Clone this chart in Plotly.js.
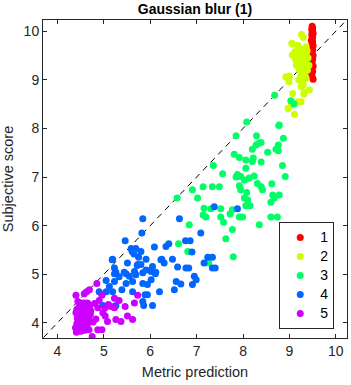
<!DOCTYPE html>
<html><head><meta charset="utf-8">
<script src="https://cdn.plot.ly/plotly-3.0.1.min.js"></script>
<style>html,body{margin:0;padding:0;background:#fff}#chart{width:351px;height:385px}</style>
</head><body><div id="chart"></div>
<script>
const groupNames = ["1","2","3","4","5"];
const groupColors = ["#ff0000","#ccff00","#00ff66","#0066ff","#cc00ff"];
const diagLine = [3.7, 10.25];

const g1x = [9.49,9.50,9.48,9.50,9.49,9.51,9.48,9.50,9.49,9.47,9.50,9.49,9.51,9.48,9.50,9.47,9.49,9.51,9.48,9.50,9.46,9.49,9.51,9.47,9.50,9.48,9.49,9.51,9.45,9.44];
const g1y = [10.10,10.07,10.04,10.01,9.98,9.95,9.92,9.88,9.85,9.81,9.78,9.74,9.70,9.66,9.62,9.58,9.54,9.50,9.46,9.42,9.38,9.33,9.28,9.23,9.17,9.12,9.06,9.01,9.40,9.32];

const g2x = [9.26,9.30,9.07,9.18,9.36,9.05,9.25,9.32,9.12,9.21,9.06,9.28,9.36,9.14,9.25,9.36,9.20,9.40,9.32,9.21,9.39,9.28,9.15,9.42,9.00,8.97,9.25,9.36,9.28,9.33,9.25,9.43,9.07,9.32,9.18,9.25,8.97,9.04,9.11,9.30,9.20,9.38,9.10,9.30,9.22,8.92,8.99,9.31];
const g2y = [9.93,9.87,9.73,9.71,9.68,9.75,9.62,9.58,9.58,9.54,9.51,9.47,9.52,9.40,9.37,9.34,9.44,9.45,9.23,9.20,9.20,9.28,9.30,9.30,9.08,9.05,9.10,9.03,8.96,9.14,8.86,8.79,8.72,8.75,8.55,8.55,8.41,8.48,8.29,8.90,9.00,9.60,9.48,9.40,9.65,9.06,8.96,8.71];

const g3x = [8.08,8.68,9.03,9.10,8.77,7.85,8.29,8.87,8.39,8.28,8.76,8.71,8.76,8.20,8.53,7.81,7.92,8.06,8.22,8.39,8.20,7.36,8.85,8.06,7.56,7.88,7.95,8.91,7.85,8.24,8.03,8.13,8.31,8.39,7.92,7.95,8.42,8.62,6.91,7.14,7.34,7.49,8.08,8.64,8.78,8.03,8.10,6.58,7.02,8.67,8.60,8.06,8.15,7.16,7.31,7.52,7.77,7.52,7.72,7.14,7.20,7.92,7.99,8.60,8.74,7.58,6.84,8.35,7.77,7.63,6.61,6.81,7.79,7.26,8.35,8.78];
const g3y = [8.13,8.68,8.57,8.50,8.06,7.85,7.85,7.80,7.71,7.66,7.66,7.57,7.54,7.57,7.51,7.47,7.40,7.35,7.39,7.31,7.32,7.24,7.24,7.18,7.07,7.05,7.01,7.01,7.00,7.02,6.94,6.98,6.87,6.80,6.82,6.74,6.74,6.86,6.74,6.80,6.80,6.80,6.68,6.63,6.63,6.57,6.53,6.57,6.57,6.57,6.48,6.41,6.41,6.36,6.35,6.35,6.33,6.18,6.24,6.22,6.18,6.18,6.18,6.18,6.18,6.07,6.02,6.02,5.92,5.73,5.63,5.47,5.36,5.23,7.70,8.07];

const g4x = [7.38,7.88,5.84,6.63,5.46,5.82,7.09,6.76,6.86,6.09,6.34,6.40,5.59,5.69,5.80,5.61,6.90,5.19,5.75,5.91,6.25,6.48,7.24,7.34,5.51,5.72,6.05,6.30,6.59,6.77,6.83,7.16,7.34,7.40,5.23,5.23,5.48,5.66,5.84,6.02,6.11,5.55,5.69,5.05,5.23,5.48,5.84,5.94,5.62,6.02,6.56,6.66,6.91,6.95,6.99,4.90,5.05,5.19,5.39,5.62,5.89,5.94,6.20,6.52,5.84,5.86,6.05,5.26,4.98,5.73,5.80,5.91,6.02,5.26,5.44,5.18,6.23,5.65,6.12,5.12,5.33];
const g4y = [6.39,6.35,6.14,6.14,5.69,5.85,5.85,5.69,5.69,5.56,5.57,5.63,5.53,5.53,5.47,5.47,5.46,5.31,5.35,5.31,5.31,5.31,5.35,5.35,5.23,5.18,5.16,5.23,5.15,5.13,5.13,5.23,5.13,5.13,5.13,5.01,5.01,5.06,5.03,5.06,5.01,4.96,4.99,4.87,4.85,4.81,4.81,4.79,4.85,4.89,4.85,4.80,4.79,4.96,4.89,4.64,4.64,4.64,4.68,4.64,4.58,4.58,4.64,4.68,4.44,4.36,4.36,4.36,4.36,5.20,5.20,5.09,5.09,5.04,5.04,5.30,5.30,5.42,5.04,4.75,4.95];

const g5x = [4.85,4.69,4.63,4.58,4.40,4.96,5.23,5.33,5.73,5.66,5.46,4.90,4.87,5.03,5.16,5.23,4.98,5.03,4.83,5.08,5.26,5.37,5.51,5.62,4.87,4.96,4.75,4.44,4.51,4.58,4.65,4.47,4.54,4.62,4.69,4.40,4.49,4.58,4.66,4.71,4.43,4.51,4.60,4.68,4.42,4.51,4.59,4.66,4.77,4.39,4.47,4.55,4.64,4.41,4.51,4.59,4.68,4.42,4.50,4.56,4.62,4.45,4.72,4.80,5.10];
const g5y = [4.81,4.68,4.64,4.60,4.57,4.57,4.51,4.46,4.57,4.41,4.34,4.46,4.31,4.31,4.34,4.31,4.21,4.14,4.08,4.03,4.07,4.03,4.14,4.07,3.86,3.86,3.72,4.44,4.41,4.41,4.41,4.33,4.32,4.34,4.33,4.21,4.19,4.21,4.20,4.18,4.10,4.08,4.10,4.08,3.99,3.99,3.98,4.00,4.02,3.90,3.90,3.91,3.90,3.81,3.83,3.85,3.86,4.28,4.25,4.12,4.02,4.05,4.25,4.40,4.38];

const xTicks = [4,5,6,7,8,9,10];
const yTicks = [4,5,6,7,8,9,10];

const xs = [g1x,g2x,g3x,g4x,g5x];
const ys = [g1y,g2y,g3y,g4y,g5y];

const traces = [{
  x: diagLine, y: diagLine, mode: 'lines', showlegend: false, hoverinfo: 'skip',
  line: {color: '#000', width: 1, dash: '6px,5px'}
}];
for (let i = 0; i < 5; i++) {
  traces.push({
    x: xs[i], y: ys[i], mode: 'markers', type: 'scatter',
    name: '<span style="font-size:14px">' + groupNames[i] + '</span>',
    marker: {color: groupColors[i], size: 7, line: {width: 0}}
  });
}

const FONT = 'Liberation Sans, Arial, sans-serif';
const axisBase = {
  showgrid: false, zeroline: false, showline: true, mirror: 'ticks',
  linecolor: '#262626', linewidth: 1, ticks: 'inside', ticklen: 4, tickcolor: '#262626',
  tickfont: {family: FONT, size: 14, color: '#262626'},
  tickmode: 'array'
};

const layout = {
  width: 351, height: 385,
  margin: {l: 43, r: 4, t: 20, b: 47},
  paper_bgcolor: '#fff', plot_bgcolor: '#fff',
  font: {family: FONT, color: '#262626'},
  title: {text: '<b>Gaussian blur (1)</b>', font: {family: FONT, size: 14, color: '#000'},
    xref: 'paper', x: 0.5, xanchor: 'center', y: 0.99, yanchor: 'top'},
  xaxis: Object.assign({}, axisBase, {range: [3.69, 10.24], tickvals: xTicks,
    title: {text: 'Metric prediction', font: {family: FONT, size: 14.5, color: '#262626'}, standoff: 9}}),
  yaxis: Object.assign({}, axisBase, {range: [3.69, 10.23], tickvals: yTicks,
    title: {text: 'Subjective score', font: {family: FONT, size: 14.5, color: '#262626'}, standoff: 8}}),
  legend: {x: 0.958, y: 0.028, xanchor: 'right', yanchor: 'bottom', bgcolor: '#fff',
    bordercolor: '#262626', borderwidth: 1, font: {family: FONT, size: 10.8, color: '#000'},
    itemwidth: 30, tracegroupgap: 0},
  showlegend: true
};

Plotly.newPlot('chart', traces, layout, {staticPlot: true, displayModeBar: false});
</script></body></html>
